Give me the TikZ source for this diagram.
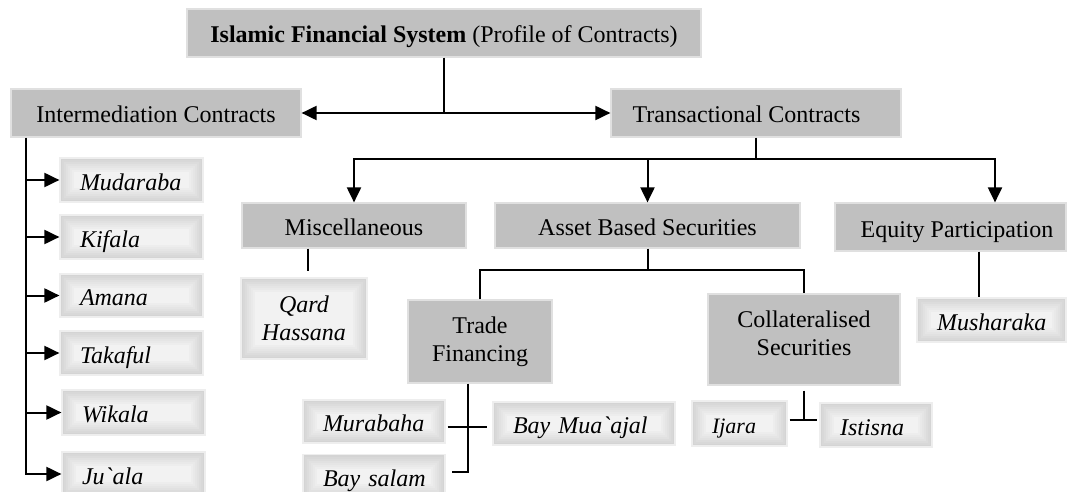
\documentclass[tikz,border=0pt]{standalone}
\usepackage{fontspec}
\setmainfont{Liberation Serif}[Ligatures=TeXOff]
\usetikzlibrary{arrows.meta}
\definecolor{boxgray}{RGB}{192,192,192}
\definecolor{boxedge}{RGB}{224,224,224}
\definecolor{leafout}{RGB}{212,212,212}
\definecolor{leafin}{RGB}{242,242,242}
\definecolor{leafedge}{RGB}{238,238,238}
\newcommand\figfont{\fontsize{24}{28}\selectfont}

\begin{document}
\begin{tikzpicture}[x=1pt,y=-1pt,
  line/.style={line width=2pt},
  arr/.style={line width=2pt,-{Triangle[length=15pt,width=14pt]}},
  arrboth/.style={line width=2pt,{Triangle[length=15pt,width=14pt]}-{Triangle[length=15pt,width=14pt]}},
  mainbox/.style={rectangle, fill=boxgray, draw=boxedge, line width=1.2pt,
    inner sep=0pt, font=\figfont},
  oneline/.style={text height=20pt, text depth=0pt},
  leaf/.style={rectangle, draw=leafedge, line width=1.2pt, inner xsep=20pt,
    inner ysep=0pt, align=left, font=\figfont\itshape,
    path picture={
      \foreach \i in {0,...,7}{
        \pgfmathtruncatemacro\pc{\i*100/7}
        \fill[leafin!\pc!leafout]
          ([shift={(\i*2pt,-\i*2pt)}]path picture bounding box.north west)
          rectangle ([shift={(-\i*2pt,\i*2pt)}]path picture bounding box.south east);
      }
    }},
]
\useasboundingbox (0,0) rectangle (1068,492);
\clip (0,0) rectangle (1068,492);
\fill[white] (0,0) rectangle (1068,492);

% upper levels
\node[mainbox, oneline, minimum width=514pt, minimum height=48pt] (top) at (444,33)
  {\textbf{Islamic Financial System} (Profile of Contracts)};
\node[mainbox, oneline, minimum width=290pt, minimum height=48pt] (inter) at (156,113)
  {Intermediation Contracts};
\node[mainbox, oneline, minimum width=290pt, minimum height=48pt] (trans) at (756,113)
  {Transactional Contracts\hspace*{19pt}};
\node[mainbox, oneline, minimum width=224pt, minimum height=45pt] (misc) at (354,225.5)
  {Miscellaneous};
\node[mainbox, oneline, minimum width=305pt, minimum height=45pt] (asset) at (647.5,225.5)
  {Asset Based Securities};
\node[mainbox, oneline, minimum width=231pt, minimum height=48pt] (eq) at (950.5,227)
  {\hspace*{13pt}Equity Participation};
\node[mainbox, align=center, minimum width=144pt, minimum height=83pt] (trade) at (480,341.5)
  {Trade\\Financing};
\node[mainbox, align=center, text depth=12pt, minimum width=192pt, minimum height=91pt] (coll) at (804,339.5)
  {Collateralised\\Securities};

% intermediation contracts
\node[leaf, oneline, text width=103pt, minimum height=44pt] (mud) at (131.5,180) {Mudaraba};
\node[leaf, oneline, text width=103pt, minimum height=44pt] (kif) at (131.5,237) {Kifala};
\node[leaf, oneline, text width=103pt, minimum height=43pt] (ama) at (131.5,295.5) {Amana};
\node[leaf, oneline, text width=103pt, minimum height=44pt] (tak) at (131.5,353) {Takaful};
\node[leaf, oneline, text width=103pt, minimum height=45pt] (wik) at (133.5,412.5) {Wikala};
\node[leaf, oneline, text width=103pt, minimum height=44pt] (jua) at (133.5,474) {Ju`ala};

% transactional contracts
\node[leaf, align=center, text width=86pt, minimum height=81pt] (qard) at (304,318.5) {Qard\\Hassana};
\node[leaf, oneline, text width=109pt, minimum height=44pt] (mush) at (991.5,320) {Musharaka};
\node[leaf, oneline, text width=102pt, minimum height=43pt] (mur) at (374,421.5) {Murabaha};
\node[leaf, oneline, text width=142pt, minimum height=43pt] (bma) at (584,423.5) {Bay Mua`ajal};
\node[leaf, oneline, text width=102pt, minimum height=43pt] (bays) at (374,476) {\mbox{Bay salam}};
\node[leaf, oneline, text width=55pt, minimum height=45pt, font=\fontsize{22}{26}\selectfont\itshape] (ija) at (739.5,423.5) {Ijara};
\node[leaf, oneline, text width=72pt, minimum height=44pt] (ist) at (876,425) {Istisna};

% top split
\draw[line] (top.south) -- (top.south |- inter.east);
\draw[arrboth] (inter.east) -- (trans.west);

% intermediation trunk
\coordinate (it) at ([xshift=16pt]inter.south west);
\draw[arr] (it) |- (jua.west);
\foreach \n in {mud,kif,ama,tak,wik}
  \draw[arr] (it |- \n.west) -- (\n.west);

% transactional branches
\coordinate (tb) at ([yshift=-21pt]trans.south);
\coordinate (eqa) at ([xshift=44.5pt]eq.north);
\draw[line] (trans.south) -- (tb);
\draw[arr] (tb) -| (misc.north);
\draw[arr] (tb) -| (eqa);
\draw[arr] (tb -| asset.north) -- (asset.north);

% miscellaneous
\coordinate (q1) at ([shift={(4pt,6pt)}]qard.north);
\draw[line] (q1 |- misc.south) -- (q1);

% asset based securities
\coordinate (ab) at ([yshift=-21pt]asset.south);
\draw[line] (asset.south) -- (ab);
\draw[line] (trade.north) |- (ab) -| (coll.north);

% trade financing
\coordinate (tv) at ([xshift=-12.5pt]trade.south);
\coordinate (tsal) at ([shift={(6pt,4pt)}]bays.east);
\draw[line] (tv) |- (tsal);
\coordinate (tm1) at ([shift={(2pt,-5.5pt)}]mur.east);
\coordinate (tm2) at ([xshift=-5pt]bma.west);
\draw[line] (tm1) -- (tm1 -| tm2);

% collateralised securities
\coordinate (c1) at ([yshift=-5pt]coll.south);
\coordinate (c2) at ([yshift=-34pt]coll.south);
\draw[line] (c1) -- (c2);
\coordinate (ci) at ([xshift=2pt]ija.east);
\coordinate (cs) at ([xshift=-2pt]ist.west);
\draw[line] (ci |- c2) -- (cs |- c2);

% equity participation
\coordinate (e1) at ([xshift=-12.5pt]mush.north);
\draw[line] (e1 |- eq.south) -- (e1);
\end{tikzpicture}
\end{document}
